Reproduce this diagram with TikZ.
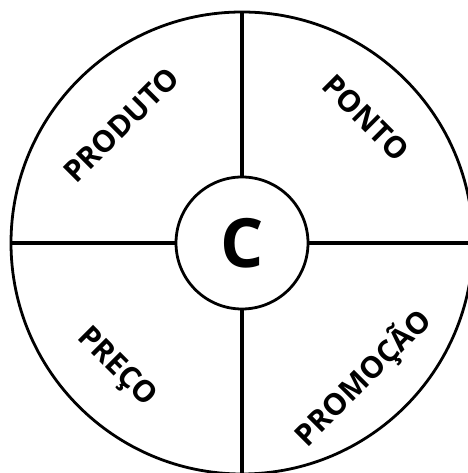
\documentclass[tikz,border=0pt]{standalone}
\usepackage{fontspec}
\setmainfont{Open Sans}
\begin{document}
\begin{tikzpicture}[x=1pt,y=1pt,
  ring/.style={circle, draw, line width=2.8pt, inner sep=0pt},
  spoke/.style={line width=4.2pt},
  lbl/.style={font=\bfseries\fontsize{30}{30}\selectfont, inner sep=0pt}]
\useasboundingbox (0,0) rectangle (467,473);
\fill[white] (0,0) rectangle (467,473);
\node[ring, minimum size=462pt] (outer) at (242,230) {};
\node[ring, minimum size=132pt, font=\bfseries\fontsize{68}{68}\selectfont] (c) at (242,230) {C};
\draw[spoke] (c.north) -- (outer.north);
\draw[spoke] (c.south) -- (outer.south);
\draw[spoke] (c.west) -- (outer.west);
\draw[spoke] (c.east) -- (outer.east);
\node[lbl, rotate=45] (produto) at (121,348) {PRODUTO};
\node[lbl, rotate=-45] (ponto) at (366,355) {PONTO};
\node[lbl, rotate=-45] (preco) at (116,105) {PREÇO};
\node[lbl, rotate=45] (promocao) at (363,95) {PROMOÇÃO};
\end{tikzpicture}
\end{document}
